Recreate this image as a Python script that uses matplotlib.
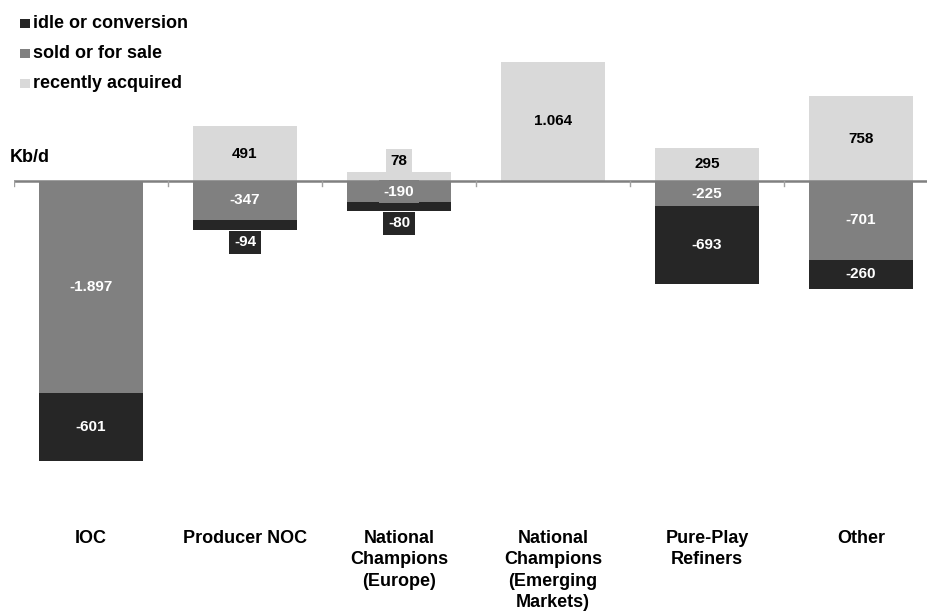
import matplotlib
matplotlib.use("Agg")
import matplotlib.pyplot as plt
from matplotlib.patches import Rectangle
import matplotlib.transforms as mtransforms
import numpy as np

# Refinery capacity changes by owner type (Kb/d)
categories = ["IOC", "Producer NOC", "National\nChampions\n(Europe)",
              "National\nChampions\n(Emerging\nMarkets)", "Pure-Play\nRefiners", "Other"]
idle = [-601, -94, -80, 0, -693, -260]
sold = [-1897, -347, -190, 0, -225, -701]
acquired = [0, 491, 78, 1064, 295, 758]
value_labels_idle = ["-601", "-94", "-80", "", "-693", "-260"]
value_labels_sold = ["-1.897", "-347", "-190", "", "-225", "-701"]
value_labels_acq = ["", "491", "78", "1.064", "295", "758"]
series_names = ["idle or conversion", "sold or for sale", "recently acquired"]

c_idle = "#262626"
c_sold = "#808080"
c_acq = "#d9d9d9"

plt.rcParams["font.family"] = ["Liberation Sans", "DejaVu Sans"]
plt.rcParams["font.weight"] = "bold"

W, H = 928, 612
fig = plt.figure(figsize=(W / 100, H / 100), dpi=100)
ax_left, ax_right = 14, 938
ax_top, ax_bot = 40, 520
ax = fig.add_axes([ax_left / W, 1 - ax_bot / H, (ax_right - ax_left) / W, (ax_bot - ax_top) / H])

zero_px = 181
scale = 0.112  # px per Kb/d
ymax = (zero_px - ax_top) / scale
ymin = -(ax_bot - zero_px) / scale
ax.set_ylim(ymin, ymax)
ax.set_xlim(-0.5, len(categories) - 0.5)

x = np.arange(len(categories))
idle = np.array(idle, dtype=float)
sold = np.array(sold, dtype=float)
acquired = np.array(acquired, dtype=float)
width = 0.67

b_acq = ax.bar(x, acquired, width, color=c_acq, zorder=2)
b_sold = ax.bar(x, sold, width, color=c_sold, zorder=2)
b_idle = ax.bar(x, idle, width, bottom=sold, color=c_idle, zorder=2)

# zero line with boundary ticks
ax.axhline(0, color="#808080", lw=1.8, zorder=3)
tick_len = 5 / scale
for b in np.arange(-0.5, len(categories) - 0.5, 1.0):
    ax.plot([b, b], [0, -tick_len], color="#a0a0a0", lw=1.0, zorder=3)

LABEL_FS = 11


def put_label(xi, lo, hi, text, face, tcolor):
    if not text:
        return
    seg_px = abs(hi - lo) * scale
    bbox = dict(boxstyle="square,pad=0.3", facecolor=face, edgecolor="none")
    kw = dict(ha="center", color=tcolor, fontsize=LABEL_FS, fontweight="bold",
              bbox=bbox, zorder=4)
    if seg_px >= 18:
        ax.text(xi, (lo + hi) / 2, text, va="center", **kw)
    elif hi > 0:
        ax.annotate(text, (xi, hi), xytext=(0, 3.4), textcoords="offset points",
                    va="bottom", **kw)
    else:
        ax.annotate(text, (xi, lo), xytext=(0, -3.6), textcoords="offset points",
                    va="top", **kw)


for i in range(len(categories)):
    put_label(x[i], 0, acquired[i], value_labels_acq[i], c_acq, "black")
    put_label(x[i], sold[i], 0, value_labels_sold[i], c_sold, "white")
    put_label(x[i], sold[i] + idle[i], sold[i], value_labels_idle[i], c_idle, "white")

# category labels below the plot
trans = mtransforms.blended_transform_factory(ax.transData, fig.transFigure)
for xi, name in zip(x, categories):
    ax.text(xi, 1 - 530 / H, name, transform=trans, ha="center", va="top",
            fontsize=13, fontweight="bold", linespacing=1.33, clip_on=False)

ax.set_xticks([])
ax.set_yticks([])
for s in ax.spines.values():
    s.set_visible(False)

fig.text(10 / W, 1 - 162 / H, "Kb/d", fontsize=13, fontweight="bold", va="baseline", ha="left")

# legend
for k, (name, col) in enumerate(zip(series_names, [c_idle, c_sold, c_acq])):
    base = 28 + 30 * k
    fig.patches.append(Rectangle((20 / W, 1 - base / H), 10 / W, 9 / H,
                                 transform=fig.transFigure, facecolor=col,
                                 edgecolor="none"))
    fig.text(33 / W, 1 - base / H, name, fontsize=13, fontweight="bold",
             va="baseline", ha="left")

fig.savefig("out.png", dpi=100)
